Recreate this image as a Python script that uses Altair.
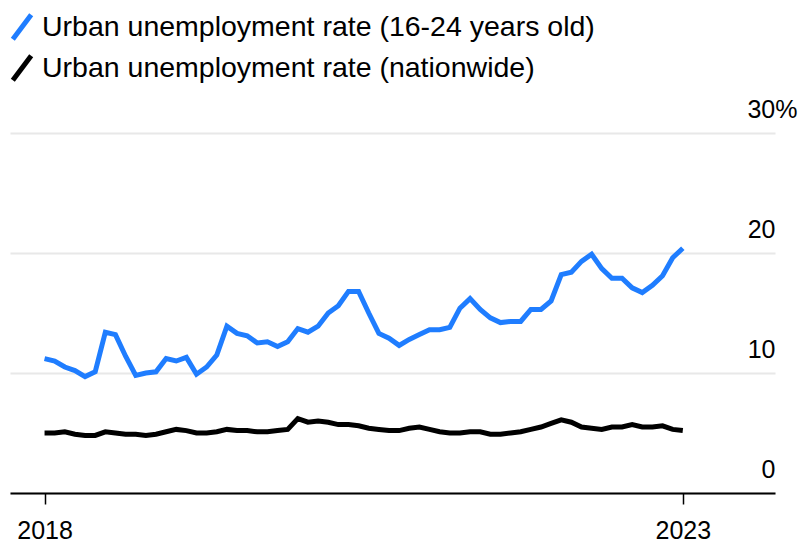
import altair as alt
import pandas as pd

# Monthly observations, Jan 2018 .. Apr 2023
months = [f"{y}-{m:02d}" for y in range(2018, 2024) for m in range(1, 13)][:64]

youth = [
    11.2, 11.0, 10.5, 10.2, 9.7, 10.1, 13.4, 13.2, 11.4, 9.8, 10.0, 10.1,
    11.2, 11.0, 11.3, 9.9, 10.5, 11.5, 13.9, 13.3, 13.1, 12.5, 12.6, 12.2,
    12.6, 13.7, 13.4, 13.9, 15.0, 15.6, 16.8, 16.8, 15.0, 13.3, 12.9, 12.3,
    12.8, 13.2, 13.6, 13.6, 13.8, 15.4, 16.2, 15.3, 14.6, 14.2, 14.3, 14.3,
    15.3, 15.3, 16.0, 18.2, 18.4, 19.3, 19.9, 18.7, 17.9, 17.9, 17.1, 16.7,
    17.3, 18.1, 19.6, 20.4,
]

nationwide = [
    5.0, 5.0, 5.1, 4.9, 4.8, 4.8, 5.1, 5.0, 4.9, 4.9, 4.8, 4.9,
    5.1, 5.3, 5.2, 5.0, 5.0, 5.1, 5.3, 5.2, 5.2, 5.1, 5.1, 5.2,
    5.3, 6.2, 5.9, 6.0, 5.9, 5.7, 5.7, 5.6, 5.4, 5.3, 5.2, 5.2,
    5.4, 5.5, 5.3, 5.1, 5.0, 5.0, 5.1, 5.1, 4.9, 4.9, 5.0, 5.1,
    5.3, 5.5, 5.8, 6.1, 5.9, 5.5, 5.4, 5.3, 5.5, 5.5, 5.7, 5.5,
    5.5, 5.6, 5.3, 5.2,
]

series_names = [
    "Urban unemployment rate (16-24 years old)",
    "Urban unemployment rate (nationwide)",
]
series_colors = ["#1f7dff", "#000000"]

x_tick_values = [0, 63]
x_tick_labels = ["2018", "2023"]
y_tick_values = [0, 10, 20, 30]

rows = []
for name, vals in zip(series_names, [youth, nationwide]):
    for m, v in zip(months, vals):
        yy, mm = m.split("-")
        rows.append({"month": m, "t": (int(yy) - 2018) * 12 + int(mm) - 1,
                     "rate": v, "series": name})
df = pd.DataFrame(rows)

FONT = "Liberation Sans"

x_label_expr = " : ".join(
    [f"datum.value == {v} ? '{l}'" for v, l in zip(x_tick_values, x_tick_labels)]
) + " : ''"

chart = (
    alt.Chart(df)
    .mark_line(strokeWidth=5)
    .encode(
        x=alt.X(
            "t:Q",
            scale=alt.Scale(domain=[-3.41, 72.1], nice=False, zero=False),
            axis=alt.Axis(
                values=x_tick_values,
                labelExpr=x_label_expr,
                title=None,
                grid=False,
                domainColor="#000000",
                domainWidth=2,
                tickColor="#000000",
                tickWidth=1.5,
                tickSize=11,
                labelFontSize=25,
                labelColor="#000000",
                labelPadding=14,
                labelFont=FONT,
            ),
        ),
        y=alt.Y(
            "rate:Q",
            scale=alt.Scale(domain=[0, 30], nice=False),
            axis=alt.Axis(
                orient="right",
                values=y_tick_values,
                labelExpr="datum.value == 30 ? '30%' : datum.label",
                title=None,
                grid=True,
                gridColor="#e8e8e8",
                gridWidth=2,
                domain=False,
                ticks=False,
                tickSize=0,
                labelAlign="right",
                labelBaseline="alphabetic",
                labelOffset=-16,
                labelPadding={"condition": {"test": "datum.value == 30", "value": 22}, "value": 0},
                labelFontSize=25,
                labelColor="#000000",
                labelFont=FONT,
            ),
        ),
        color=alt.Color(
            "series:N",
            scale=alt.Scale(domain=series_names, range=series_colors),
            legend=alt.Legend(
                orient="none",
                legendX=-3,
                legendY=-121,
                title=None,
                direction="vertical",
                symbolType="M-0.75,1L0.75,-1",
                symbolStrokeWidth=5,
                symbolSize=600,
                labelFontSize=28.5,
                labelFont=FONT,
                labelColor="#000000",
                labelOffset=5,
                rowPadding=-5,
                labelLimit=700,
            ),
        ),
    )
    .properties(
        width=765,
        height=360,
        autosize=alt.AutoSizeParams(type="none"),
        padding={"left": 10, "top": 133, "right": 25, "bottom": 49},
    )
    .configure(font=FONT)
    .configure_view(strokeWidth=0)
)

chart.save("out.html", embed_options={"renderer": "svg", "actions": False})
